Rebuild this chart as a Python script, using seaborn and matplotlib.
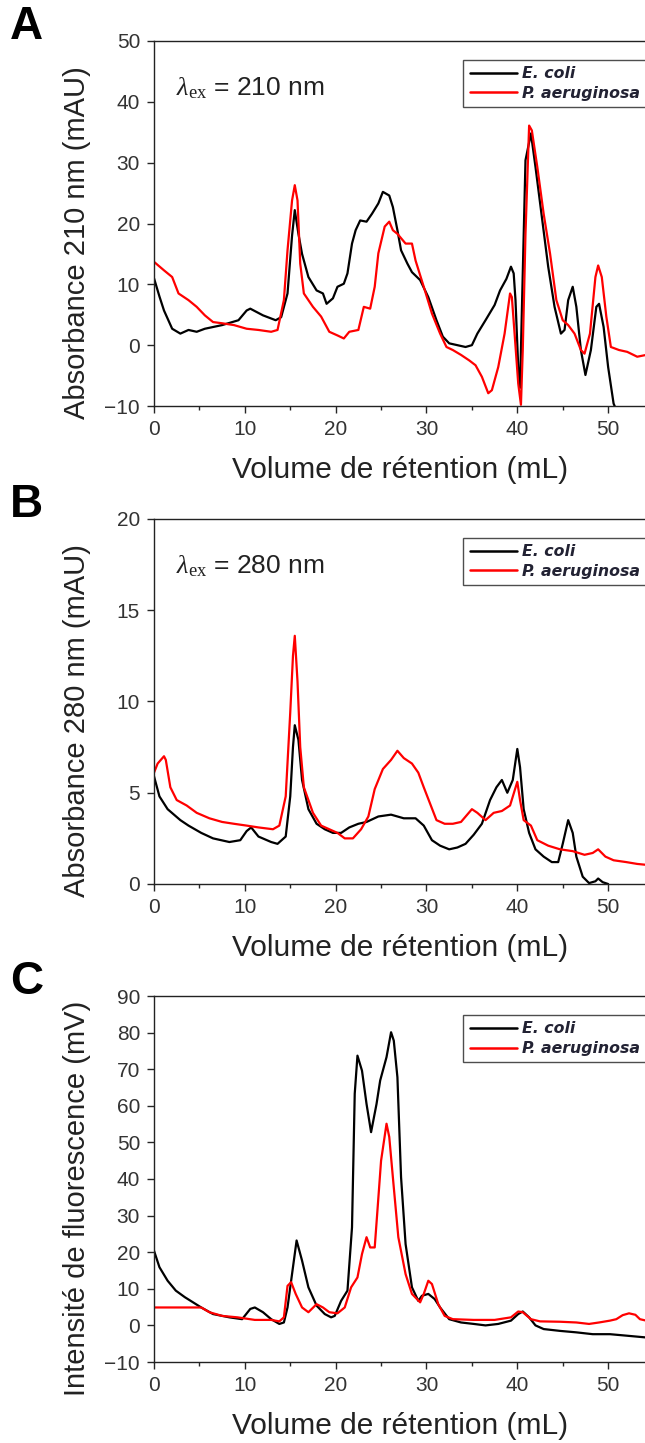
import matplotlib
matplotlib.use("Agg")
import matplotlib.pyplot as plt
from matplotlib.ticker import MultipleLocator
import pandas as pd
import seaborn as sns

# --- données (volume de rétention en mL) ---
SOUCHES = ["E. coli", "P. aeruginosa"]
COULEURS = {"E. coli": "#000000", "P. aeruginosa": "#ff0000"}

# A : absorbance 210 nm
a_coli_x = [0, 0.6, 1.1, 2, 2.9, 3.8, 4.7, 5.6, 7.5, 9.3, 10.2, 10.6, 12, 13.4, 14, 14.7,
            15.2, 15.5, 15.9, 16.3, 17, 17.9, 18.6, 19, 19.7, 20.2, 20.9, 21.3, 21.8, 22.2,
            22.7, 23.4, 24, 24.7, 25.2, 25.9, 26.3, 26.8, 27.2, 27.9, 28.4, 29.3, 30.2, 31.1,
            31.8, 32.5, 33.4, 34.3, 35, 35.6, 36.5, 37.5, 38.1, 38.8, 39.3, 39.6, 39.8, 40.1,
            40.3, 40.6, 40.9, 41.5, 42, 42.7, 43.4, 44.1, 44.8, 45.2, 45.6, 46.1, 46.5, 47,
            47.5, 48.1, 48.7, 49, 49.5, 50, 50.6, 51]
a_coli_y = [11, 8, 5.7, 2.7, 1.9, 2.5, 2.2, 2.7, 3.3, 4.1, 5.7, 6.0, 4.9, 4.1, 4.6, 8.5,
            18, 22.2, 18.3, 15, 11.2, 9, 8.5, 6.8, 7.7, 9.6, 10.1, 11.8, 16.7, 18.9,
            20.5, 20.3, 21.6, 23.3, 25.2, 24.6, 22.7, 18.9, 15.6, 13.4, 12.0, 10.7, 7.9, 4.1,
            1.4, 0.3, 0, -0.3, 0, 1.9, 4.1, 6.6, 9.0, 10.9, 12.9, 11.8, 7.4, -3.6,
            -7, 11.8, 30.4, 34.8, 29.3, 21.1, 12.9, 6.3, 1.9, 2.5, 7.4, 9.6, 6.3, -0.8,
            -4.9, -0.8, 6.3, 6.8, 3.0, -3.6, -9.6, -11]
a_pa_x = [0, 1.1, 2, 2.7, 3.8, 4.7, 5.6, 6.5, 7.5, 8.8, 10.2, 11.5, 12.9, 13.6, 14.3, 14.7,
          15.2, 15.5, 15.8, 16.1, 16.5, 17.5, 18.4, 19.3, 20.2, 20.9, 21.5, 22.5, 23.1, 23.8,
          24.3, 24.7, 25.4, 25.9, 26.3, 26.8, 27.7, 28.4, 28.8, 29.7, 30.6, 31.5, 32.2, 32.9,
          33.8, 34.7, 35.4, 36.1, 36.8, 37.2, 37.9, 38.6, 39.2, 39.4, 39.7, 40.1, 40.4, 40.6,
          40.9, 41.3, 41.6, 42.2, 42.9, 43.6, 44.3, 45, 45.6, 46.3, 47, 47.4, 48, 48.6, 48.9,
          49.3, 49.8, 50.3, 51.2, 52.1, 53.2, 54.2]
a_pa_y = [13.7, 12.3, 11.2, 8.5, 7.4, 6.3, 4.9, 3.8, 3.6, 3.3, 2.7, 2.5, 2.2, 2.5, 7.4, 15.6,
          23.8, 26.3, 23.8, 13.4, 8.5, 6.3, 4.7, 2.2, 1.6, 1.1, 2.2, 2.5, 6.3, 6.0,
          9.6, 15.1, 19.5, 20.3, 18.9, 18.3, 16.7, 16.7, 13.9, 9.6, 5.2, 1.9, -0.3, -0.8,
          -1.6, -2.5, -3.3, -5.2, -7.9, -7.4, -3.6, 1.9, 8.5, 7.9, 1.9, -6.3, -9.8, -0.8,
          18.3, 36.1, 35.3, 29.3, 21.6, 15.1, 7.4, 4.1, 3.3, 1.9, -0.8, -1.4, 1.9, 11.2, 13.1,
          11.2, 4.7, -0.3, -0.8, -1.1, -1.9, -1.6]

# B : absorbance 280 nm
b_coli_x = [0, 0.6, 1.5, 2.9, 3.8, 5.2, 6.5, 8.3, 9.5, 10.2, 10.7, 11.5, 12.9, 13.6, 14.5,
            15, 15.3, 15.5, 15.9, 16.3, 17, 17.9, 18.8, 19.7, 20.6, 21.5, 22.5, 23.4, 24.7,
            26.1, 27.5, 28.8, 29.7, 30.6, 31.5, 32.5, 33.4, 34.3, 35.2, 36.1, 37, 37.7, 38.3,
            38.9, 39.5, 40, 40.3, 40.7, 41.3, 42, 42.9, 43.8, 44.5, 45, 45.6, 46.1, 46.5, 47.2,
            47.9, 48.6, 48.9, 49.4, 50]
b_coli_y = [5.9, 4.8, 4.1, 3.5, 3.2, 2.8, 2.5, 2.3, 2.4, 2.9, 3.1, 2.6, 2.3, 2.2, 2.6,
            4.8, 7.5, 8.7, 7.9, 5.7, 4.1, 3.3, 3.0, 2.8, 2.8, 3.1, 3.3, 3.4, 3.7,
            3.8, 3.6, 3.6, 3.2, 2.4, 2.1, 1.9, 2.0, 2.2, 2.7, 3.3, 4.6, 5.3, 5.7,
            5.0, 5.7, 7.4, 6.4, 4.1, 2.8, 1.9, 1.5, 1.2, 1.2, 2.2, 3.5, 2.8, 1.5, 0.4,
            0.05, 0.15, 0.3, 0.1, 0]
b_pa_x = [0, 0.4, 1.1, 1.3, 1.8, 2.5, 3.6, 4.7, 6.1, 7.5, 8.8, 10.2, 11.5, 13.1, 13.8, 14.5,
          15, 15.3, 15.5, 15.8, 16.1, 16.5, 17.5, 18.4, 19.3, 20.2, 21, 21.9, 22.8, 23.6,
          24.3, 25.2, 26.1, 26.8, 27.5, 28.4, 29.1, 29.7, 30.4, 31.1, 32, 32.9, 33.8, 35,
          35.6, 36.5, 37.4, 38.3, 39.2, 40, 40.3, 40.7, 41.5, 42.2, 43.4, 44.7, 46.1, 47.4,
          48.3, 48.9, 49.7, 50.6, 52, 53.2, 54.2]
b_pa_y = [6.1, 6.6, 7.0, 6.8, 5.3, 4.6, 4.3, 3.9, 3.6, 3.4, 3.3, 3.2, 3.1, 3.0, 3.2, 4.8,
          9.4, 12.5, 13.6, 11.1, 7.5, 5.3, 3.9, 3.2, 3.0, 2.8, 2.5, 2.5, 3.0, 3.7,
          5.2, 6.3, 6.8, 7.3, 6.9, 6.6, 6.1, 5.3, 4.4, 3.5, 3.3, 3.3, 3.4, 4.1,
          3.9, 3.5, 3.9, 4.0, 4.3, 5.6, 4.6, 3.5, 3.2, 2.4, 2.1, 1.9, 1.8, 1.6,
          1.7, 1.9, 1.5, 1.3, 1.2, 1.1, 1.05]

# C : fluorescence
c_coli_x = [0, 0.6, 1.5, 2.4, 3.4, 4.3, 5.2, 6.5, 8.3, 9.7, 10.6, 11.1, 12, 12.9, 13.8, 14.3,
            14.7, 15.3, 15.7, 16.3, 17, 17.9, 18.8, 19.5, 19.9, 20.6, 21.3, 21.8, 22.1, 22.4,
            22.9, 23.4, 23.9, 24.5, 24.9, 25.6, 26.1, 26.4, 26.8, 27.2, 27.7, 28.4, 29.1, 29.5,
            30.2, 30.9, 31.5, 32.5, 33.8, 35.2, 36.5, 37.9, 39.3, 40.1, 40.6, 41.3, 42, 42.9,
            44.7, 46.5, 48.3, 50.2, 52, 54.2]
c_coli_y = [20.4, 15.9, 12.2, 9.5, 7.7, 6.3, 4.9, 3.1, 2.2, 1.7, 4.5, 4.9, 3.6, 1.7, 0.4, 0.8,
            4.9, 15.9, 23.2, 17.7, 10.4, 5.4, 3.1, 2.2, 2.6, 6.7, 9.5, 26.8, 63.3, 73.7,
            69.6, 60.5, 52.8, 60.5, 66.9, 73.3, 80.1, 77.8, 67.8, 40.5, 22.2, 10.4, 6.7, 8.1,
            8.6, 7.2, 4.9, 1.7, 0.8, 0.4, 0, 0.4, 1.3, 3.1, 3.8, 2.2, 0, -1.0,
            -1.5, -1.9, -2.4, -2.4, -2.8, -3.3]
c_pa_x = [0, 5.2, 6.1, 7.5, 9.2, 11.1, 12.9, 13.8, 14.3, 14.7, 15.1, 15.6, 16.3, 17, 17.9,
          18.6, 19.3, 20.2, 21, 21.7, 22.4, 22.9, 23.4, 23.8, 24.3, 24.6, 25, 25.6, 25.9,
          26.4, 26.9, 27.7, 28.4, 29.3, 29.7, 30.2, 30.6, 31.3, 32, 32.9, 35.2, 37.5, 39.3,
          40.1, 40.6, 41.5, 42.5, 44.7, 46.5, 47.9, 49, 50.2, 50.9, 51.6, 52.3, 53, 53.5, 54.2]
c_pa_y = [4.9, 4.9, 3.6, 2.6, 2.2, 1.5, 1.5, 1.1, 2.2, 10.8, 11.8, 8.6, 4.9, 3.6, 5.8,
          4.9, 3.6, 3.3, 4.9, 10.4, 13.1, 19.5, 24.1, 21.3, 21.3, 31.4, 45, 55.1, 51.5,
          37.7, 24.1, 14.0, 8.6, 6.3, 8.6, 12.2, 11.3, 5.8, 2.6, 1.7, 1.5, 1.5, 2.2,
          3.8, 3.6, 1.7, 1.1, 1.0, 0.8, 0.4, 0.8, 1.3, 1.7, 2.8, 3.3, 2.9, 1.7, 1.3]

XLABEL = "Volume de rétention (mL)"
YLABELS = ["Absorbance 210 nm (mAU)", "Absorbance 280 nm (mAU)",
           "Intensité de fluorescence (mV)"]
LETTRES = ["A", "B", "C"]
LAMBDAS = [r"$\lambda_{\rm ex}$ = 210 nm", r"$\lambda_{\rm ex}$ = 280 nm", None]
YLIMS = [(-10, 50), (0, 20), (-10, 90)]
YSTEPS = [10, 5, 10]


def long_form(coli_x, coli_y, pa_x, pa_y):
    a = pd.DataFrame({"x": coli_x, "y": coli_y, "souche": SOUCHES[0]})
    b = pd.DataFrame({"x": pa_x, "y": pa_y, "souche": SOUCHES[1]})
    return pd.concat([a, b], ignore_index=True)


panels = [
    long_form(a_coli_x, a_coli_y, a_pa_x, a_pa_y),
    long_form(b_coli_x, b_coli_y, b_pa_x, b_pa_y),
    long_form(c_coli_x, c_coli_y, c_pa_x, c_pa_y),
]

sns.set_style("ticks")
plt.rcParams["font.family"] = ["Liberation Sans", "DejaVu Sans"]
plt.rcParams["mathtext.fontset"] = "custom"
plt.rcParams["mathtext.rm"] = "Liberation Serif"
plt.rcParams["mathtext.it"] = "Liberation Serif:italic"

fig = plt.figure(figsize=(6.45, 14.43), dpi=100)
W, H = 645, 1443
boxes = [(41, 406), (519, 884), (996, 1362)]  # haut / bas des axes en pixels
x0 = 154

for i, df in enumerate(panels):
    top, bot = boxes[i]
    ax = fig.add_axes([x0 / W, 1 - bot / H, (W - x0) / W + 0.002, (bot - top) / H])
    sns.lineplot(data=df, x="x", y="y", hue="souche", palette=COULEURS,
                 estimator=None, sort=False, linewidth=1.6, ax=ax)
    ax.set_xlim(0, 54.2)
    ax.set_ylim(*YLIMS[i])
    ax.xaxis.set_major_locator(MultipleLocator(10))
    ax.xaxis.set_minor_locator(MultipleLocator(5))
    ax.yaxis.set_major_locator(MultipleLocator(YSTEPS[i]))
    ax.tick_params(axis="both", which="major", direction="out", length=5, width=1,
                   labelsize=15, labelcolor="#333333", pad=5)
    ax.tick_params(axis="x", which="minor", direction="out", length=3, width=1)
    for s in ["left", "bottom", "top"]:
        ax.spines[s].set_color("#222222")
        ax.spines[s].set_linewidth(1.0)
    ax.spines["right"].set_visible(False)
    ax.set_xlabel(XLABEL, fontsize=21.5, color="#222222", labelpad=12)
    ax.set_ylabel(YLABELS[i], fontsize=21, color="#222222")
    ax.yaxis.set_label_coords(-0.127, 0.447)

    leg = ax.legend(loc="upper right", bbox_to_anchor=(0.999, 0.948), frameon=True,
                    fancybox=False, handlelength=3.0, handletextpad=0.3,
                    borderpad=0.4, labelspacing=0.3, borderaxespad=0,
                    prop={"family": "DejaVu Sans", "weight": "bold", "style": "italic",
                          "size": 11.3})
    leg.get_frame().set_edgecolor("#222222")
    leg.get_frame().set_linewidth(1.0)
    for t in leg.get_texts():
        t.set_color("#222233")
    for h in leg.get_lines():
        h.set_linewidth(1.8)

    if LAMBDAS[i]:
        ax.text(0.045, 0.87, LAMBDAS[i], transform=ax.transAxes, fontsize=19,
                color="#222222", va="center", ha="left")

    fig.text(10 / W, 1 - (top - 14) / H, LETTRES[i], fontsize=33, fontweight="bold",
             ha="left", va="center", color="#000000")

fig.savefig("out.png", dpi=100)
